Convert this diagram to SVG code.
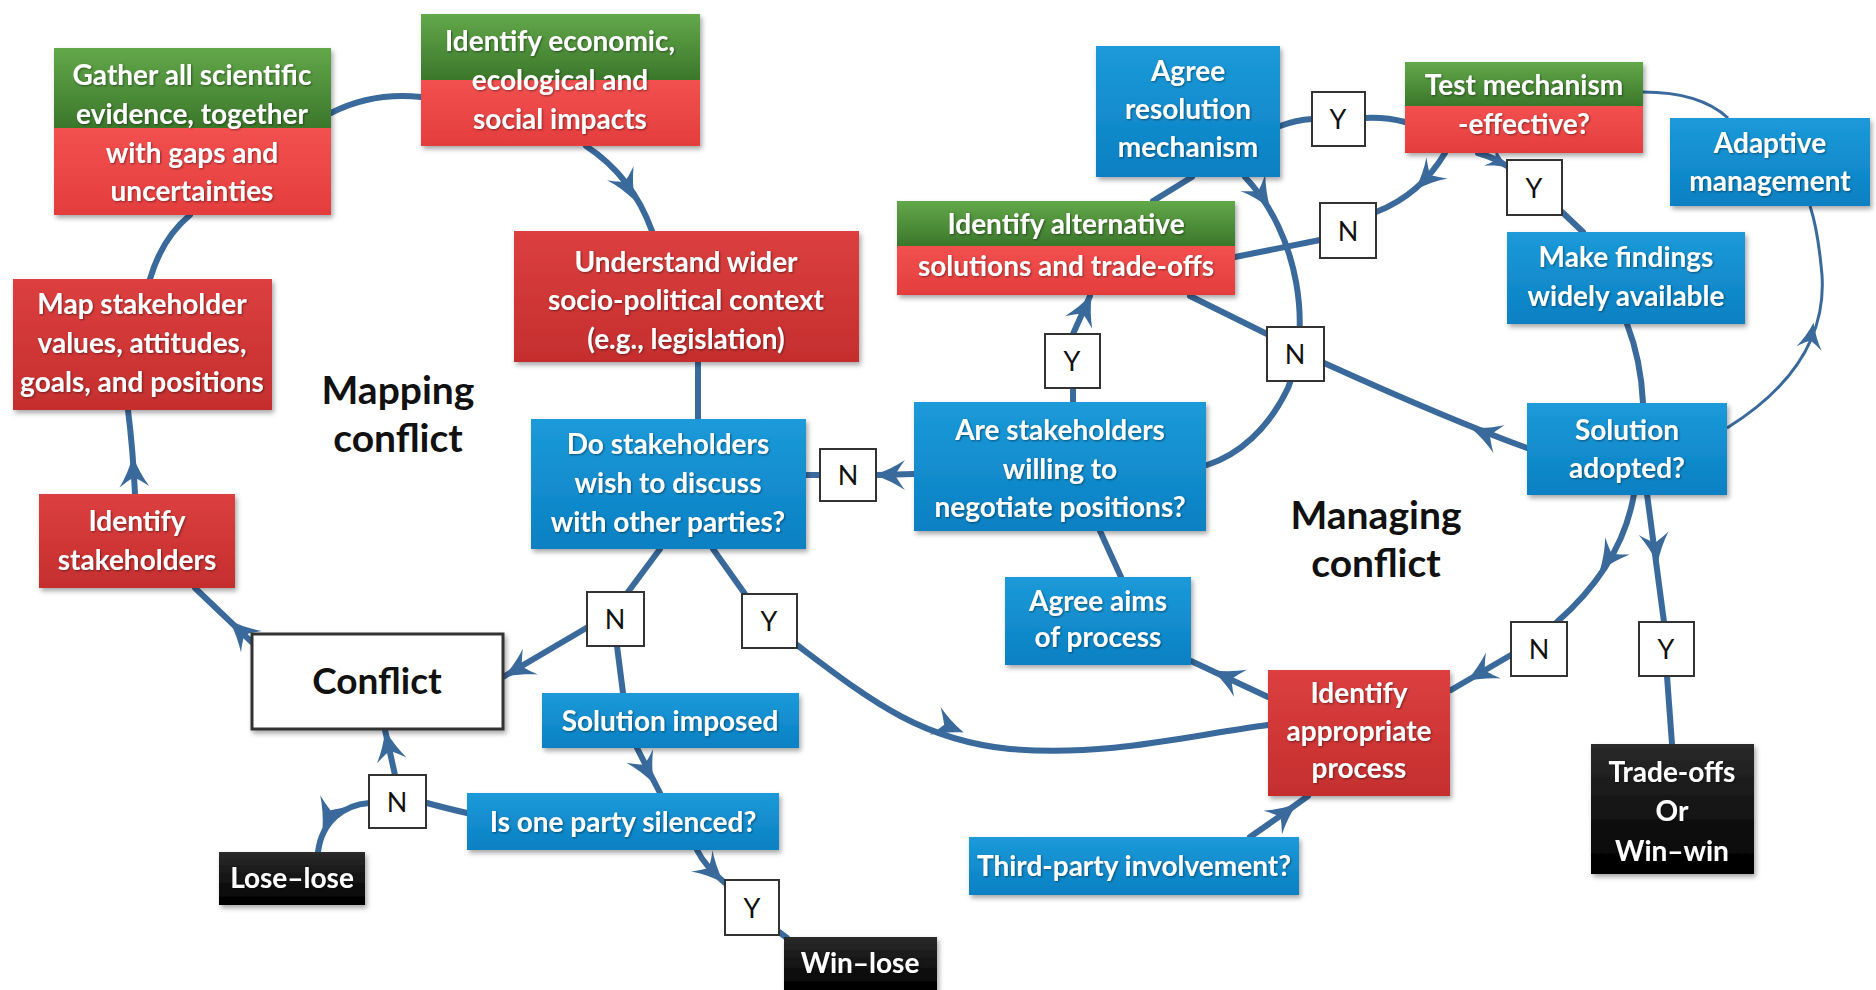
<svg xmlns="http://www.w3.org/2000/svg" xmlns:xlink="http://www.w3.org/1999/xlink" width="1876" height="990" viewBox="0 0 1876 990">
<style>
.t{font-family:Lato,"Open Sans","DejaVu Sans",sans-serif;font-size:28px;font-weight:bold;fill:#fff;text-anchor:middle;filter:url(#ts)}
.yn{font-family:Lato,"Open Sans","DejaVu Sans",sans-serif;font-size:27px;fill:#111;text-anchor:middle}
.big{font-family:Lato,"Open Sans","DejaVu Sans",sans-serif;font-size:39px;font-weight:bold;fill:#111;text-anchor:middle}
.cf{font-family:Lato,"Open Sans","DejaVu Sans",sans-serif;font-size:37px;font-weight:bold;fill:#111;text-anchor:middle}
.c{fill:none;stroke:#3a6a9c;stroke-width:6;stroke-linecap:round}
.thin{fill:none;stroke:#3a6a9c;stroke-width:3}
.ah{fill:#3a6a9c}
.blue{fill:url(#gb);filter:url(#sh)}
.red{fill:url(#gr);filter:url(#sh)}
.red2{fill:url(#gr2)}
.green{fill:url(#gg)}
.black{fill:url(#gk);filter:url(#sh)}
.ynb{fill:#fff;stroke:#333;stroke-width:2}
</style>
<defs>
<linearGradient id="gb" x1="0" y1="0" x2="0" y2="1"><stop offset="0" stop-color="#1c9ad9"/><stop offset="1" stop-color="#0a80c3"/></linearGradient>
<linearGradient id="gr" x1="0" y1="0" x2="0" y2="1"><stop offset="0" stop-color="#dc3f3f"/><stop offset="1" stop-color="#c52e2e"/></linearGradient>
<linearGradient id="gr2" x1="0" y1="0" x2="0" y2="1"><stop offset="0" stop-color="#f35050"/><stop offset="1" stop-color="#e43d3d"/></linearGradient>
<linearGradient id="gg" x1="0" y1="0" x2="0" y2="1"><stop offset="0" stop-color="#63a84a"/><stop offset="1" stop-color="#3b772b"/></linearGradient>
<linearGradient id="gk" x1="0" y1="0" x2="0" y2="1"><stop offset="0" stop-color="#2a2a2a"/><stop offset="1" stop-color="#000"/></linearGradient>
<filter id="sh" x="-10%" y="-10%" width="125%" height="130%"><feDropShadow dx="2" dy="3" stdDeviation="2.5" flood-color="#000" flood-opacity="0.35"/></filter>
<filter id="ts" x="-5%" y="-20%" width="110%" height="150%"><feDropShadow dx="1" dy="1" stdDeviation="0.8" flood-color="#000" flood-opacity="0.45"/></filter>
<path id="ah" d="M4,0 C-8,-4 -18,-9 -27,-15 C-21,-7 -19,-3 -17,0 C-19,3 -21,7 -27,15 C-18,9 -8,4 4,0 Z"/>
</defs>
<rect width="1876" height="990" fill="#fff"/>

<g id="connectors">
<path class="c" d="M258,648 L195,588"/>
<path class="c" d="M135,494 Q133,450 128,410"/>
<path class="c" d="M150,279 Q162,238 190,215"/>
<path class="c" d="M331,113 Q372,92 421,97"/>
<path class="c" d="M586,146 Q632,176 652,231"/>
<path class="c" d="M698,362 L698,419"/>
<path class="c" d="M914,474 L876,475"/>
<path class="c" d="M820,475 L806,475"/>
<path class="c" d="M1073,402 L1073,388"/>
<path class="c" d="M1073,334 L1090,296"/>
<path class="c" d="M1153,201 L1192,177"/>
<path class="c" d="M1280,126 Q1296,120 1312,119"/>
<path class="c" d="M1365,118 Q1386,117 1405,122"/>
<path class="c" d="M1445,153 Q1420,195 1376,212"/>
<path class="c" d="M1320,240 L1235,257"/>
<path class="c" d="M1478,153 Q1495,158 1507,166"/>
<path class="c" d="M1562,212 L1583,232"/>
<path class="thin" d="M1643,92 Q1700,92 1728,118"/>
<path class="thin" d="M1727,428 Q1828,365 1822,275 Q1818,230 1810,206"/>
<path class="c" d="M1627,324 Q1641,360 1643,403"/>
<path class="c" d="M1527,448 Q1450,420 1324,363"/>
<path class="c" d="M1267,334 L1190,296"/>
<path class="c" d="M1245,177 C1300,235 1312,330 1288,388 C1268,430 1238,455 1207,465"/>
<path class="c" d="M1100,531 L1121,577"/>
<path class="c" d="M1268,697 L1191,661"/>
<path class="c" d="M713,549 L745,594"/>
<path class="c" d="M797,645 C870,700 920,740 1010,749 C1110,757 1190,735 1268,725"/>
<path class="c" d="M1634,494 Q1622,565 1557,622"/>
<path class="c" d="M1511,655 L1451,690"/>
<path class="c" d="M1647,494 Q1656,560 1664,622"/>
<path class="c" d="M1667,676 L1672,744"/>
<path class="c" d="M1250,837 Q1282,815 1308,796"/>
<path class="c" d="M660,549 L628,592"/>
<path class="c" d="M588,627 L503,677"/>
<path class="c" d="M617,646 L623,693"/>
<path class="c" d="M637,748 L660,793"/>
<path class="c" d="M467,813 Q445,808 427,803"/>
<path class="c" d="M395,775 L385,730"/>
<path class="c" d="M369,803 C345,805 322,820 318,852"/>
<path class="c" d="M697,850 Q705,866 725,883"/>
<path class="c" d="M779,932 L787,938"/>
<g class="ah">
<use xlink:href="#ah" href="#ah" transform="translate(232,623) rotate(-136)"/>
<use xlink:href="#ah" href="#ah" transform="translate(133,460) rotate(-93)"/>
<use xlink:href="#ah" href="#ah" transform="translate(633,197) rotate(62)"/>
<use xlink:href="#ah" href="#ah" transform="translate(878,475) rotate(180)"/>
<use xlink:href="#ah" href="#ah" transform="translate(1090,298) rotate(-65)"/>
<use xlink:href="#ah" href="#ah" transform="translate(1418,187) rotate(135)"/>
<use xlink:href="#ah" href="#ah" transform="translate(1506,166) rotate(30) scale(0.7)"/>
<use xlink:href="#ah" href="#ah" transform="translate(1813,326) rotate(-80) scale(0.85)"/>
<use xlink:href="#ah" href="#ah" transform="translate(1474,429) rotate(202)"/>
<use xlink:href="#ah" href="#ah" transform="translate(1268,205) rotate(56)"/>
<use xlink:href="#ah" href="#ah" transform="translate(1216,672) rotate(205)"/>
<use xlink:href="#ah" href="#ah" transform="translate(960,731) rotate(22)"/>
<use xlink:href="#ah" href="#ah" transform="translate(1602,568) rotate(125)"/>
<use xlink:href="#ah" href="#ah" transform="translate(1470,679) rotate(150)"/>
<use xlink:href="#ah" href="#ah" transform="translate(1657,560) rotate(83)"/>
<use xlink:href="#ah" href="#ah" transform="translate(1294,806) rotate(-38)"/>
<use xlink:href="#ah" href="#ah" transform="translate(507,675) rotate(150)"/>
<use xlink:href="#ah" href="#ah" transform="translate(652,780) rotate(63)"/>
<use xlink:href="#ah" href="#ah" transform="translate(386,734) rotate(-102)"/>
<use xlink:href="#ah" href="#ah" transform="translate(324,826) rotate(112)"/>
<use xlink:href="#ah" href="#ah" transform="translate(721,880) rotate(45)"/>
</g>
</g>

<g id="gather"><g filter="url(#sh)"><rect class="green" x="54" y="48" width="277" height="80"/><rect class="red2" x="54" y="128" width="277" height="87"/></g>
<text class="t" x="192" y="85">Gather all scientific</text><text class="t" x="192" y="124">evidence, together</text><text class="t" x="192" y="163">with gaps and</text><text class="t" x="192" y="201">uncertainties</text></g>

<g id="economic"><g filter="url(#sh)"><rect class="green" x="421" y="14" width="279" height="66"/><rect class="red2" x="421" y="80" width="279" height="66"/></g>
<text class="t" x="560" y="51">Identify economic,</text><text class="t" x="560" y="90">ecological and</text><text class="t" x="560" y="129">social impacts</text></g>

<g id="map"><rect class="red" x="13" y="279" width="259" height="131"/>
<text class="t" x="142" y="314">Map stakeholder</text><text class="t" x="142" y="353">values, attitudes,</text><text class="t" x="142" y="392">goals, and positions</text></g>

<g id="idstake"><rect class="red" x="39" y="494" width="196" height="94"/>
<text class="t" x="137" y="531">Identify</text><text class="t" x="137" y="570">stakeholders</text></g>

<g id="mapping-label"><text class="big" x="398" y="404">Mapping</text><text class="big" x="398" y="452">conflict</text></g>

<g id="understand"><rect class="red" x="514" y="231" width="345" height="131"/>
<text class="t" x="686" y="272">Understand wider</text><text class="t" x="686" y="310">socio-political context</text><text class="t" x="686" y="349">(e.g., legislation)</text></g>

<g id="dostake"><rect class="blue" x="531" y="419" width="275" height="130"/>
<text class="t" x="668" y="454">Do stakeholders</text><text class="t" x="668" y="493">wish to discuss</text><text class="t" x="668" y="532">with other parties?</text></g>

<g id="n1"><rect class="ynb" x="820" y="449" width="56" height="52"/><text class="yn" x="848" y="485">N</text></g>

<g id="arestake"><rect class="blue" x="914" y="402" width="292" height="129"/>
<text class="t" x="1060" y="440">Are stakeholders</text><text class="t" x="1060" y="479">willing to</text><text class="t" x="1060" y="517">negotiate positions?</text></g>

<g id="y2"><rect class="ynb" x="1045" y="334" width="55" height="54"/><text class="yn" x="1072" y="371">Y</text></g>

<g id="alternative"><g filter="url(#sh)"><rect class="green" x="897" y="201" width="338" height="45"/><rect class="red2" x="897" y="246" width="338" height="49"/></g>
<text class="t" x="1066" y="234">Identify alternative</text><text class="t" x="1066" y="276">solutions and trade-offs</text></g>

<g id="agree"><rect class="blue" x="1096" y="46" width="184" height="131"/>
<text class="t" x="1188" y="81">Agree</text><text class="t" x="1188" y="119">resolution</text><text class="t" x="1188" y="157">mechanism</text></g>

<g id="y3"><rect class="ynb" x="1312" y="92" width="53" height="54"/><text class="yn" x="1338" y="129">Y</text></g>

<g id="test"><g filter="url(#sh)"><rect class="green" x="1405" y="62" width="238" height="44"/><rect class="red2" x="1405" y="106" width="238" height="47"/></g>
<text class="t" x="1524" y="95">Test mechanism</text><text class="t" x="1524" y="134">-effective?</text></g>

<g id="n4"><rect class="ynb" x="1320" y="203" width="56" height="55"/><text class="yn" x="1348" y="241">N</text></g>

<g id="y5"><rect class="ynb" x="1507" y="160" width="55" height="55"/><text class="yn" x="1534" y="198">Y</text></g>

<g id="adaptive"><rect class="blue" x="1670" y="118" width="200" height="88"/>
<text class="t" x="1770" y="153">Adaptive</text><text class="t" x="1770" y="191">management</text></g>

<g id="findings"><rect class="blue" x="1507" y="232" width="238" height="92"/>
<text class="t" x="1626" y="267">Make findings</text><text class="t" x="1626" y="306">widely available</text></g>

<g id="n6"><rect class="ynb" x="1267" y="327" width="57" height="54"/><text class="yn" x="1295" y="364">N</text></g>

<g id="solution"><rect class="blue" x="1527" y="403" width="200" height="92"/>
<text class="t" x="1627" y="440">Solution</text><text class="t" x="1627" y="478">adopted?</text></g>

<g id="managing-label"><text class="big" x="1376" y="529">Managing</text><text class="big" x="1376" y="577">conflict</text></g>

<g id="aims"><rect class="blue" x="1005" y="577" width="186" height="88"/>
<text class="t" x="1098" y="611">Agree aims</text><text class="t" x="1098" y="647">of process</text></g>

<g id="appropriate"><rect class="red" x="1268" y="670" width="182" height="126"/>
<text class="t" x="1359" y="703">Identify</text><text class="t" x="1359" y="741">appropriate</text><text class="t" x="1359" y="778">process</text></g>

<g id="n7"><rect class="ynb" x="1511" y="622" width="56" height="54"/><text class="yn" x="1539" y="659">N</text></g>

<g id="y8"><rect class="ynb" x="1639" y="622" width="55" height="54"/><text class="yn" x="1666" y="659">Y</text></g>

<g id="tradeoffs"><rect class="black" x="1591" y="744" width="163" height="130"/>
<text class="t" x="1672" y="782">Trade-offs</text><text class="t" x="1672" y="821">Or</text><text class="t" x="1672" y="861">Win–win</text></g>

<g id="thirdparty"><rect class="blue" x="969" y="837" width="330" height="58"/>
<text class="t" x="1134" y="876">Third-party involvement?</text></g>

<g id="conflict"><rect x="252" y="634" width="251" height="95" fill="#fff" stroke="#333" stroke-width="3" filter="url(#sh)"/>
<text class="cf" x="377" y="694">Conflict</text></g>

<g id="n9"><rect class="ynb" x="587" y="592" width="57" height="54"/><text class="yn" x="615" y="629">N</text></g>

<g id="y10"><rect class="ynb" x="742" y="594" width="55" height="54"/><text class="yn" x="769" y="631">Y</text></g>

<g id="imposed"><rect class="blue" x="542" y="693" width="257" height="55"/>
<text class="t" x="670" y="731">Solution imposed</text></g>

<g id="silenced"><rect class="blue" x="467" y="793" width="312" height="57"/>
<text class="t" x="623" y="832">Is one party silenced?</text></g>

<g id="n11"><rect class="ynb" x="369" y="775" width="57" height="53"/><text class="yn" x="397" y="812">N</text></g>

<g id="loselose"><rect class="black" x="219" y="852" width="146" height="53"/>
<text class="t" x="292" y="888">Lose–lose</text></g>

<g id="y12"><rect class="ynb" x="725" y="880" width="54" height="55"/><text class="yn" x="752" y="918">Y</text></g>

<g id="winlose"><rect class="black" x="784" y="937" width="153" height="53"/>
<text class="t" x="860" y="973">Win–lose</text></g>
</svg>
